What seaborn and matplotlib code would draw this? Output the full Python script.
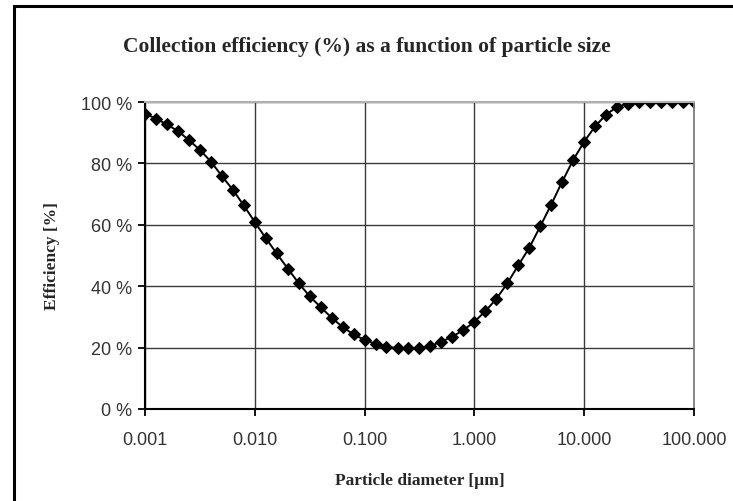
import numpy as np
import pandas as pd
import matplotlib
matplotlib.use("Agg")
import matplotlib.pyplot as plt
import seaborn as sns
from matplotlib.patches import Rectangle
from matplotlib.ticker import FixedLocator, NullLocator

# Particle diameters (µm): 0.1-decade steps from 0.001 to 100
diameter_um = [0.001, 0.00126, 0.00158, 0.002, 0.00251, 0.00316, 0.00398, 0.00501, 0.00631, 0.00794,
               0.01, 0.0126, 0.0158, 0.02, 0.0251, 0.0316, 0.0398, 0.0501, 0.0631, 0.0794,
               0.1, 0.126, 0.158, 0.2, 0.251, 0.316, 0.398, 0.501, 0.631, 0.794,
               1.0, 1.26, 1.58, 2.0, 2.51, 3.16, 3.98, 5.01, 6.31, 7.94,
               10.0, 12.6, 15.8, 20.0, 25.1, 31.6, 39.8, 50.1, 63.1, 79.4, 100.0]
efficiency_pct = [96.2, 94.6, 92.7, 90.5, 87.6, 84.4, 80.6, 75.9, 71.4, 66.3,
                  60.9, 55.6, 50.7, 45.7, 41.0, 36.7, 33.2, 29.7, 26.7, 24.3,
                  22.5, 21.2, 20.3, 19.8, 19.8, 19.8, 20.6, 21.9, 23.6, 25.7,
                  28.4, 31.9, 35.8, 41.0, 46.8, 52.5, 59.5, 66.6, 74.1, 81.1,
                  87.1, 92.1, 95.9, 98.4, 99.5, 100.0, 100.0, 100.0, 100.0, 100.0, 100.0]

x_ticks = [0.001, 0.01, 0.1, 1, 10, 100]
x_ticklabels = ["0.001", "0.010", "0.100", "1.000", "10.000", "100.000"]
y_ticks = [0, 20, 40, 60, 80, 100]
y_ticklabels = ["0 %", "20 %", "40 %", "60 %", "80 %", "100 %"]

df = pd.DataFrame({"d": diameter_um, "eff": efficiency_pct})

sns.set_style("white")
fig = plt.figure(figsize=(7.33, 5.02), dpi=100)
ax = fig.add_axes([145/733, 1 - 410/502, (694-145)/733, (410-103)/502])

# outer chart border
fig.patches.append(Rectangle((14/733, -0.1), 1.2, 1 - 7/502 + 0.1, transform=fig.transFigure,
                             fill=False, edgecolor="black", linewidth=2.2))

sns.lineplot(data=df, x="d", y="eff", ax=ax, color="black", linewidth=1.4,
             marker="D", markersize=6, markeredgecolor="black", markerfacecolor="black")

ax.set_xscale("log")
ax.set_xlim(0.001, 100)
ax.set_ylim(0, 100)
ax.xaxis.set_major_locator(FixedLocator(x_ticks))
ax.xaxis.set_minor_locator(NullLocator())
ax.set_xticks(x_ticks)
ax.set_xticklabels(x_ticklabels)
ax.set_yticks(y_ticks)
ax.set_yticklabels(y_ticklabels)

ax.grid(True, which="major", color="#3a3a3a", linewidth=1.0)
ax.set_axisbelow(True)
for s in ["left", "bottom"]:
    ax.spines[s].set_color("black")
    ax.spines[s].set_linewidth(1.5)
ax.spines["top"].set_color("#b0b0b0")
ax.spines["top"].set_linewidth(1.5)
ax.spines["right"].set_color("#808080")
ax.spines["right"].set_linewidth(1.3)

ax.tick_params(axis="both", direction="out", length=5, width=1.3, color="black",
               labelsize=13, labelcolor="#333333", bottom=True, left=True)
ax.tick_params(axis="x", pad=11)
ax.tick_params(axis="y", pad=4)
for lbl in ax.get_xticklabels() + ax.get_yticklabels():
    lbl.set_fontfamily("Liberation Sans")

ax.set_xlabel("Particle diameter [µm]", fontfamily="Liberation Serif", fontweight="bold",
              fontsize=12.5, labelpad=17)
ax.set_ylabel("Efficiency [%]", fontfamily="Liberation Serif", fontweight="bold",
              fontsize=12.5, labelpad=15)

fig.text(0.5, 1 - 47/502, "Collection efficiency (%) as a function of particle size",
         ha="center", va="center", fontfamily="Liberation Serif", fontweight="bold",
         fontsize=15.5)

fig.savefig("out.png", dpi=100)
